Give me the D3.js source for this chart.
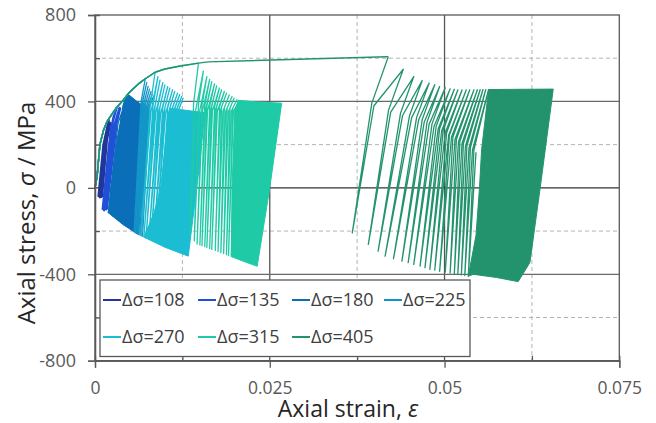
<!DOCTYPE html>
<html><head><meta charset="utf-8">
<script src="https://cdn.jsdelivr.net/npm/d3@7"></script>
<style>
html,body{margin:0;padding:0;background:#fff;}
svg{display:block;font-family:"Open Sans",sans-serif;}
</style></head>
<body><svg id="c" width="656" height="423"></svg>
<script>
// ---------- axis data ----------
const xTickVals = [0, 0.025, 0.05, 0.075];
const xTickLabels = ["0", "0.025", "0.05", "0.075"];
const xMinor = [0.0125, 0.0375, 0.0625];
const yTickVals = [-800, -400, 0, 400, 800];
const yTickLabels = ["-800", "-400", "0", "400", "800"];
const yMinor = [-600, -200, 200, 600];

// ---------- series ----------
const seriesNames = ["Δσ=108", "Δσ=135", "Δσ=180", "Δσ=225", "Δσ=270", "Δσ=315", "Δσ=405"];
const seriesColors = ["#22359a", "#2050d8", "#0a6fb8", "#1495c8", "#1bbdd2", "#1fcaa6", "#23936e"];

// common monotonic loading curve [strain, stress MPa]
const monotonic = [[0,0],[0.0003,52],[0.0007,200],[0.0012,265],[0.0017,305],[0.0024,340],[0.0031,372],
  [0.0040,405],[0.0047,434],[0.0055,460],[0.0064,486],[0.0072,505],[0.0086,535],[0.0100,550],
  [0.0120,563],[0.0148,577],[0.0162,583],[0.0418,607]];

// first peak of each test
const peaks = [[0.0020,318],[0.0031,372],[0.0047,434],[0.0072,505],[0.0086,535],[0.0148,577],[0.04195,607]];

// transient cycles: [topStrain, topStress, kneeStrain, kneeStress, bottomStrain, bottomStress, reloadKneeStrain, reloadKneeStress]
const cyc108 = [[0.0020,318, 0.0014,230, 0.0005,-38, 0.0012,200],[0.0019,300, 0.0014,210, 0.0007,-44, 0.0014,200],
  [0.0021,302, 0.0016,210, 0.0009,-42, 0.0016,220],[0.0022,300, 0.0017,220, 0.0010,-40, 0.0017,230]];
const cyc135 = [[0.0031,372, 0.0025,300, 0.0011,-98, 0.0020,200],[0.0027,335, 0.0022,260, 0.0013,-104, 0.0025,260],
  [0.0035,370, 0.0030,300, 0.0016,-100, 0.0028,260],[0.0036,368, 0.0031,300, 0.0017,-96, 0.0029,260]];
const cyc180 = [[0.0047,434, 0.0040,380, 0.0019,-115, 0.0033,300],[0.0046,420, 0.0041,370, 0.0025,-130, 0.0037,320]];
const cyc225 = [[0.0072,505, 0.0066,400, 0.0056,-205, 0.0066,370],[0.0074,487, 0.0068,395, 0.0058,-208, 0.0068,368],
  [0.0076,470, 0.0070,390, 0.0060,-212, 0.0070,365],[0.0078,457, 0.0072,388, 0.0062,-215, 0.0072,362],
  [0.0080,445, 0.0074,385, 0.0064,-218, 0.0074,360],[0.0082,435, 0.0076,382, 0.0066,-221, 0.0076,358],
  [0.0084,425, 0.0078,380, 0.0068,-224, 0.0078,356]];
const cyc270 = [[0.0086,535, 0.0079,380, 0.0066,-222, 0.0080,350],[0.0090,515, 0.0083,380, 0.0070,-227, 0.0084,350],
  [0.0093,499, 0.0086,380, 0.0073,-232, 0.0087,350],[0.0097,487, 0.0090,378, 0.0077,-237, 0.0091,348],
  [0.0100,477, 0.0093,375, 0.0080,-242, 0.0094,345],[0.0104,469, 0.0097,374, 0.0084,-247, 0.0098,345],
  [0.0107,462, 0.0100,372, 0.0087,-252, 0.0101,345],[0.0111,454, 0.0104,371, 0.0091,-257, 0.0105,345],
  [0.0114,446, 0.0107,370, 0.0094,-262, 0.0108,345],[0.0118,438, 0.0111,369, 0.0098,-267, 0.0112,345],
  [0.0121,431, 0.0114,368, 0.0101,-272, 0.0115,345],[0.0124,423, 0.0117,366, 0.0104,-276, 0.0118,345],
  [0.0126,415, 0.0120,365, 0.0106,-280, 0.0120,345]];
const cyc315 = [[0.0148,577, 0.0141,390, 0.0136,-225, 0.0144,360],[0.0155,540, 0.0148,385, 0.0142,-245, 0.0150,360],
  [0.0160,515, 0.0153,380, 0.0146,-260, 0.0154,360],[0.0164,502, 0.0157,379, 0.0150,-264, 0.0158,359],
  [0.0167,492, 0.0160,378, 0.0153,-268, 0.0161,358],[0.0171,481, 0.0164,377, 0.0157,-272, 0.0165,357],
  [0.0174,472, 0.0167,376, 0.0160,-276, 0.0168,356],[0.0178,462, 0.0171,375, 0.0164,-281, 0.0172,356],
  [0.0181,454, 0.0174,374, 0.0167,-285, 0.0175,355],[0.0185,446, 0.0178,373, 0.0172,-290, 0.0179,355],
  [0.0188,438, 0.0181,372, 0.0176,-295, 0.0183,355],[0.0192,430, 0.0185,371, 0.0180,-300, 0.0187,355],
  [0.0196,423, 0.0189,370, 0.0184,-304, 0.0191,355],[0.0199,415, 0.0193,369, 0.0188,-309, 0.0195,355],
  [0.0203,408, 0.0197,368, 0.0191,-313, 0.0198,355],[0.0207,403, 0.0201,367, 0.0195,-317, 0.0202,355],
  [0.0210,400, 0.0204,366, 0.0198,-321, 0.0205,355]];
const cyc405 = [[0.04195,607, 0.0396,392, 0.0368,-208, 0.0399,380],[0.0441,549, 0.0420,361, 0.0391,-262, 0.0423,350],
  [0.0456,515, 0.0437,345, 0.0405,-293, 0.0440,335],[0.0468,496, 0.0450,335, 0.0415,-316, 0.0453,325],
  [0.0478,485, 0.0460,325, 0.0427,-328, 0.0463,315],[0.0486,477, 0.0468,315, 0.0439,-339, 0.0471,305],
  [0.0493,469, 0.0475,305, 0.0448,-346, 0.0478,295],[0.0501,463, 0.0482,295, 0.0456,-354, 0.0485,285],
  [0.0508,458, 0.0488,285, 0.0465,-362, 0.0491,275],[0.0514,456, 0.0493,275, 0.0472,-369, 0.0496,265],
  [0.0519,453, 0.0498,265, 0.0479,-377, 0.0501,255],[0.0525,453, 0.0503,255, 0.0486,-381, 0.0506,245],
  [0.0531,453, 0.0507,245, 0.0493,-386, 0.0510,235],[0.0536,453, 0.0512,235, 0.0501,-390, 0.0515,225],
  [0.0542,453, 0.0517,225, 0.0508,-394, 0.0520,215],[0.0547,454, 0.0522,215, 0.0514,-397, 0.0525,205],
  [0.0551,454, 0.0527,205, 0.0519,-400, 0.0530,195],[0.0555,455, 0.0532,195, 0.0524,-403, 0.0535,185],
  [0.0559,455, 0.0537,185, 0.0529,-406, 0.0540,175],[0.0563,455, 0.0542,175, 0.0534,-409, 0.0545,165]];

// dense (stabilised) cycle bands, outline [strain, stress]
const band108 = [];
const band135 = [];
const band180 = [[0.0047,434],[0.0060,400],[0.0072,372],[0.0067,0],[0.0062,-216],[0.0040,-170],[0.0019,-115],[0.0030,200],[0.0043,415]];
const band225 = [];
const band270 = [[0.0108,368],[0.0157,348],[0.0150,120],[0.01334,-316],[0.0100,-275],[0.0070,-228],[0.0084,-120],[0.0094,0],[0.0102,250]];
const band315 = [[0.0205,405],[0.0230,398],[0.0267,392],[0.0250,0],[0.0232,-363],[0.0210,-337],[0.0195,-318],[0.0196,0],[0.0200,360]];
const band405 = [[0.0563,455],[0.0600,456],[0.06555,457],[0.06365,-8],[0.06221,-346],[0.06054,-434],[0.05745,-415],[0.0541,-400],[0.0534,-409],[0.0545,-220],[0.0550,0],[0.0553,175]];

const cycles = [cyc108, cyc135, cyc180, cyc225, cyc270, cyc315, cyc405];
const bands = [band108, band135, band180, band225, band270, band315, band405];

// ---------- drawing ----------
const svg = d3.select("#c");
const L = 95, R = 619.3, T = 15, B = 360.7;
const x = d3.scaleLinear().domain([0, 0.075]).range([L, R]);
const y = d3.scaleLinear().domain([-800, 800]).range([B, T]);
const line = d3.line().x(d => x(d[0])).y(d => y(d[1]));

// minor grid (dashed)
const grid = svg.append("g");
grid.selectAll(".gxm").data(xMinor).join("line")
  .attr("x1", d => x(d)).attr("x2", d => x(d)).attr("y1", T).attr("y2", B)
  .attr("stroke", "#b4b4b4").attr("stroke-width", 1).attr("stroke-dasharray", "4,3");
grid.selectAll(".gym").data(yMinor).join("line")
  .attr("y1", d => y(d)).attr("y2", d => y(d)).attr("x1", L).attr("x2", R)
  .attr("stroke", "#b4b4b4").attr("stroke-width", 1).attr("stroke-dasharray", "4,3");
// major grid
grid.selectAll(".gx").data(xTickVals.slice(1, -1)).join("line")
  .attr("x1", d => x(d)).attr("x2", d => x(d)).attr("y1", T).attr("y2", B)
  .attr("stroke", "#555").attr("stroke-width", 1.3);
grid.selectAll(".gy").data(yTickVals.slice(1, -1)).join("line")
  .attr("y1", d => y(d)).attr("y2", d => y(d)).attr("x1", L).attr("x2", R)
  .attr("stroke", d => d === 0 ? "#333" : "#6a6a6a").attr("stroke-width", 1.3);

// series
const plot = svg.append("g");
seriesNames.forEach((name, i) => {
  const c = seriesColors[i];
  const g = plot.append("g");
  const pk = peaks[i];
  const mono = monotonic.filter(p => p[0] < pk[0]).concat([pk]);
  if (bands[i].length) {
    g.append("path").attr("d", line(bands[i]) + "Z")
      .attr("fill", c).attr("stroke", c).attr("stroke-width", 1).attr("stroke-linejoin", "round");
  }
  const pts = [];
  cycles[i].forEach(cv => { pts.push([cv[0], cv[1]], [cv[2], cv[3]], [cv[4], cv[5]], [cv[6], cv[7]]); });
  const w = (i < 2) ? 2.2 : 1.3;
  g.append("path").attr("d", line(pts)).attr("fill", "none")
    .attr("stroke", c).attr("stroke-width", w).attr("stroke-linejoin", "round");
  g.append("path").attr("d", line(mono)).attr("fill", "none")
    .attr("stroke", c).attr("stroke-width", 1.4).attr("stroke-linejoin", "round");
});

// frame
svg.append("rect").attr("x", L).attr("y", T).attr("width", R - L).attr("height", B - T)
  .attr("fill", "none").attr("stroke", "#595959").attr("stroke-width", 1.3);

// axes
const yAxis = d3.axisLeft(y).tickValues(yTickVals).tickSize(7).tickPadding(12)
  .tickFormat((d, k) => yTickLabels[k]);
svg.append("g").attr("class", "ya").attr("transform", `translate(${L},0)`).call(yAxis);
const xAxis = d3.axisBottom(x).tickValues(xTickVals).tickSize(7).tickPadding(14)
  .tickFormat((d, k) => xTickLabels[k]);
svg.append("g").attr("class", "xa").attr("transform", `translate(0,${B})`).call(xAxis);
const yAxisMinor = d3.axisLeft(y).tickValues(yMinor).tickSize(-5).tickFormat("");
svg.append("g").attr("transform", `translate(${L},0)`).call(yAxisMinor);
const xAxisMinor = d3.axisBottom(x).tickValues(xMinor).tickSize(-5).tickFormat("");
svg.append("g").attr("transform", `translate(0,${B})`).call(xAxisMinor);
svg.selectAll(".domain").attr("stroke", "#595959").attr("stroke-width", 1.3);
svg.selectAll(".tick line").attr("stroke", "#595959").attr("stroke-width", 1.3);
svg.selectAll(".ya .tick text").attr("font-family", "Open Sans").attr("font-size", 18).attr("fill", "#595959");
svg.selectAll(".xa .tick text").attr("font-family", "Open Sans").attr("font-size", 17.5).attr("fill", "#595959");

// axis titles
const yt = svg.append("text").attr("transform", "translate(35,213) rotate(-90)")
  .attr("text-anchor", "middle").attr("font-size", 24).attr("fill", "#262626");
yt.append("tspan").text("Axial stress, ");
yt.append("tspan").attr("font-style", "italic").text("σ");
yt.append("tspan").text(" / MPa");
const xt = svg.append("text").attr("x", 348).attr("y", 417)
  .attr("text-anchor", "middle").attr("font-size", 23).attr("fill", "#262626");
xt.append("tspan").text("Axial strain, ");
xt.append("tspan").attr("font-style", "italic").text("ε");

// legend
const lg = svg.append("g");
lg.append("rect").attr("x", 100).attr("y", 280).attr("width", 370).attr("height", 76.5)
  .attr("fill", "#fff").attr("stroke", "#595959").attr("stroke-width", 1.3);
const colX = [103, 198, 292, 384];
const rowY = [300, 337];
seriesNames.forEach((name, i) => {
  const cx = colX[i % 4], cy = rowY[Math.floor(i / 4)];
  lg.append("line").attr("x1", cx).attr("x2", cx + 18).attr("y1", cy).attr("y2", cy)
    .attr("stroke", seriesColors[i]).attr("stroke-width", 2);
  lg.append("text").attr("x", cx + 19).attr("y", cy).attr("dy", "0.35em")
    .attr("font-size", 18).attr("fill", "#404040").text(name);
});
</script></body></html>
